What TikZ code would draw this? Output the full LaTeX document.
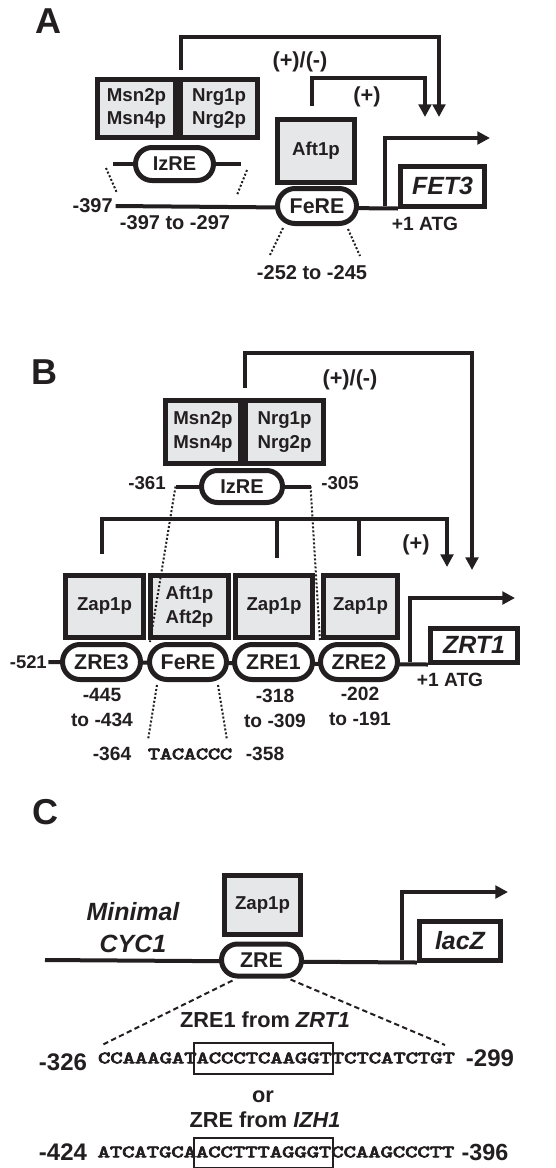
\documentclass[tikz,border=0pt]{standalone}
\usepackage{graphicx}
\usepackage{fontspec}
\setmainfont{Liberation Sans}[BoldFont={Liberation Sans Bold},BoldItalicFont={Liberation Sans Bold Italic}]
\newfontfamily\seqfont{lmmono10-regular.otf}[FakeBold=4]
\usetikzlibrary{arrows.meta,shapes.misc}
\newdimen\px \px=0.75pt
\definecolor{ink}{RGB}{35,31,32}
\definecolor{boxgrey}{RGB}{230,231,232}
\newcommand{\fz}[2]{\fontsize{#1pt}{#2pt}\selectfont}
\begin{document}
\begin{tikzpicture}[x=0.75pt,y=-0.75pt,
  every node/.style={text=ink, inner sep=0pt, font=\bfseries},
  prot/.style={draw=ink, fill=boxgrey, line width=3.75pt, align=center, font=\bfseries\fz{14}{17.5}},
  elem/.style={draw=ink, fill=white, line width=3.75pt, rounded rectangle, font=\bfseries\fz{16}{19}},
  gene/.style={draw=ink, fill=white, line width=3.75pt, font=\bfseries\itshape\fz{18.7}{22}},
  num/.style={font=\bfseries\fz{15}{18.75}, align=center},
  small/.style={font=\bfseries\fz{14.4}{18.75}, align=center},
  sign/.style={font=\bfseries\fz{16.3}{19}},
  panel/.style={font=\bfseries\fz{27}{30}},
  dna/.style={draw=ink, line width=3pt},
  act/.style={draw=ink, line width=3pt, -{Triangle[length=9.5pt,width=9.5pt]}},
  dotline/.style={draw=ink, line width=1.5pt, dash pattern=on 1.5pt off 1.5pt},
  dashline/.style={draw=ink, line width=1.5pt, dash pattern=on 4pt off 2.5pt},
  seq/.style={font=\seqfont\fz{13}{16}},
  seqbox/.style={draw=ink, line width=0.9pt},
]
\useasboundingbox (0,0) rectangle (556,1168);
\fill[white] (0,0) rectangle (556,1168);

% ================= Panel A =================
\node[panel] (labA) at (48,21) {A};
\node[prot, minimum width=78\px, minimum height=58\px] (msnA) at (136.5,108.5) {Msn2p\\Msn4p};
\node[prot, minimum width=77\px, minimum height=58\px] (nrgA) at (219,108.5) {Nrg1p\\Nrg2p};
\node[elem, font=\bfseries\fz{15}{18}, minimum width=78\px, minimum height=33\px] (izreA) at (174.5,164) {IzRE};
\node[prot, minimum width=77\px, minimum height=63\px] (aftA) at (316,151) {Aft1p};
\node[gene, minimum width=84\px, minimum height=40\px] (fetA) at (442.5,186) {FET3};
\node[num, anchor=east] (m397) at (113,206) {-397};
\node[num] (rA1) at (175,223) {-397 to -297};
\node[num] (rA2) at (312,273) {-252 to -245};
\node[small] (atgA) at (425,224) {+1 ATG};
\node[sign] (pmA) at (300,62) {(+)/(-)};
\node[sign] (pA) at (367,97) {(+)};
\coordinate (pA0) at (385,206);
\coordinate (pAtip) at (490,138);
\coordinate (tA1) at (439,117);
\coordinate (tA2) at (425,117);
\coordinate (dA1) at (106,168); \coordinate (dA2) at (117,193);
\coordinate (dA3) at (247,170); \coordinate (dA4) at (237,195);
\coordinate (dA5) at (283,228); \coordinate (dA6) at (270,255);
\coordinate (dA7) at (348,229); \coordinate (dA8) at (360,256);

\draw[dna] ([xshift=2pt]m397.east) -- (fetA.south west);
\node[elem, minimum width=79\px, minimum height=35\px] (fereA) at (317,206) {FeRE};
\draw[act] (pA0) |- (pAtip);
\draw[dna] (izreA.west) -- ++(-20,0);
\draw[dna] (izreA.east) -- ++(25,0);
\draw[dotline] (dA1) -- (dA2);
\draw[dotline] (dA3) -- (dA4);
\draw[dotline] (dA5) -- (dA6);
\draw[dotline] (dA7) -- (dA8);
\draw[act] ([shift={(2.5,-7)}]msnA.north east) -- ++(0,-33.5) -| (tA1);
\draw[act] ([shift={(-4,-11.5)}]aftA.north) -- ++(0,-28) -| (tA2);

% ================= Panel B =================
\node[panel] (labB) at (44,372) {B};
\node[prot, minimum width=75\px, minimum height=63\px] (msnB) at (203,432) {Msn2p\\Msn4p};
\node[prot, minimum width=78\px, minimum height=63\px] (nrgB) at (284.5,432) {Nrg1p\\Nrg2p};
\node[elem, font=\bfseries\fz{15}{18}, minimum width=81\px, minimum height=32\px] (izreB) at (242,486.5) {IzRE};
\node[small, font=\bfseries\fz{14}{17}] (m361) at (147,483) {-361};
\node[small, font=\bfseries\fz{14}{17}] (m305) at (340,483) {-305};
\node[sign] (pmB) at (350,380) {(+)/(-)};
\node[sign] (pB) at (416,545) {(+)};

\node[prot, minimum width=78\px, minimum height=62\px] (zapB1) at (104.5,606.5) {Zap1p};
\node[prot, minimum width=78\px, minimum height=62\px] (aftB) at (189.5,606.5) {Aft1p\\Aft2p};
\node[prot, minimum width=77\px, minimum height=62\px] (zapB3) at (274,606.5) {Zap1p};
\node[prot, minimum width=74\px, minimum height=62\px] (zapB4) at (360.5,606.5) {Zap1p};

\node[small, font=\bfseries\fz{13.8}{17}, anchor=east] (m521) at (47,662) {-521};
\node[gene, minimum width=87\px, minimum height=34\px] (zrtB) at (474,645) {ZRT1};
\draw[dna] ([xshift=1pt]m521.east) -- (zrtB.south west);
\node[elem, minimum width=78\px, minimum height=35\px] (zre3) at (101.5,662) {ZRE3};
\node[elem, minimum width=77\px, minimum height=35\px] (fereB) at (188,662) {FeRE};
\node[elem, minimum width=78\px, minimum height=35\px] (zre1) at (273.5,662) {ZRE1};
\node[elem, minimum width=77\px, minimum height=35\px] (zre2) at (359,662) {ZRE2};
\coordinate (pB0) at (410,662);
\coordinate (pBtip) at (515,598);
\draw[act] (pB0) |- (pBtip);
\node[small] (atgB) at (450,680) {+1 ATG};

\node[small] (rB3) at (102,707.5) {-445\\to -434};
\node[small] (rB1) at (275,708.5) {-318\\to -309};
\node[small] (rB2) at (360,706) {-202\\to -191};
\node[small] (m364) at (112,754) {-364};
\node[seq] (tac) at (190,754) {\scalebox{1.32}[1]{TACACCC}};
\node[small] (m358) at (265,754) {-358};

\draw[dna] (izreB.west) -- ++(-23.5,0) coordinate (izBL);
\draw[dna] (izreB.east) -- ++(25.5,0) coordinate (izBR);
\coordinate (dB1) at (150,642);
\coordinate (dB2) at (320,640);
\draw[dotline] (izBL) -- (dB1);
\draw[dotline] (izBR) -- (dB2);
\coordinate (dB3) at (157,685); \coordinate (dB4) at (148,740);
\coordinate (dB5) at (218,685); \coordinate (dB6) at (227,740);
\draw[dotline] (dB3) -- (dB4);
\draw[dotline] (dB5) -- (dB6);

\coordinate (tB1) at (472,570);
\coordinate (tB2) at (447,567);
\draw[act] ([shift={(2,-10.5)}]msnB.north east) -- ++(0,-35) -| (tB1);
\draw[act] ([shift={(-2.5,-19.5)}]zapB1.north) -- ++(0,-35) -| (tB2);
\draw[dna] ([shift={(3,-15.5)}]zapB3.north) -- ++(0,-40.5);
\draw[dna] ([shift={(-1.5,-17.5)}]zapB4.north) -- ++(0,-38.5);

% ================= Panel C =================
\node[panel] (labC) at (45,812) {C};
\node[prot, minimum width=76\px, minimum height=59\px] (zapC) at (262.5,905) {Zap1p};
\node[gene, minimum width=81\px, minimum height=39\px] (lacZ) at (460,940.5) {lacZ};
\coordinate (cL) at (45,960);
\draw[dna] (cL) -- (lacZ.south west);
\node[elem, minimum width=80\px, minimum height=32\px] (zreC) at (261.5,960) {ZRE};
\coordinate (pC0) at (402,960);
\coordinate (pCtip) at (508,892);
\draw[act] (pC0) |- (pCtip);
\node[align=center, font=\bfseries\itshape\fz{18.7}{23.75}] (cyc) at (133,927.5) {Minimal\\CYC1};

\coordinate (eC1) at (102,1045);
\coordinate (eC2) at (445,1045);
\draw[dashline] ([shift={(-5,2)}]zreC.south west) -- (eC1);
\draw[dashline] ([shift={(5,1)}]zreC.south east) -- (eC2);

\node[font=\bfseries\fz{16.3}{19}] (t1) at (265,1020) {ZRE1 from \textit{ZRT1}};
\node[font=\bfseries\fz{18}{20}] (m326) at (63,1062) {-326};
\node[seq] (s1) at (276.5,1058) {\scalebox{1.352}[1]{CCAAAGATACCCTCAAGGTTCTCATCTGT}};
\node[seqbox, minimum width=139\px, minimum height=31\px] (b1) at (263.5,1058.5) {};
\node[font=\bfseries\fz{18}{20}] (m299) at (490,1058) {-299};
\node[font=\bfseries\fz{16.3}{19}] (or) at (263,1097) {or};
\node[font=\bfseries\fz{16.3}{19}] (t2) at (265,1120) {ZRE from \textit{IZH1}};
\node[font=\bfseries\fz{18}{20}] (m424) at (63,1152) {-424};
\node[seq] (s2) at (276,1152) {\scalebox{1.352}[1]{ATCATGCAACCTTTAGGGTCCAAGCCCTT}};
\node[seqbox, minimum width=139\px, minimum height=30\px] (b2) at (263.5,1153) {};
\node[font=\bfseries\fz{17.5}{20}] (m396) at (485,1152) {-396};
\end{tikzpicture}
\end{document}
